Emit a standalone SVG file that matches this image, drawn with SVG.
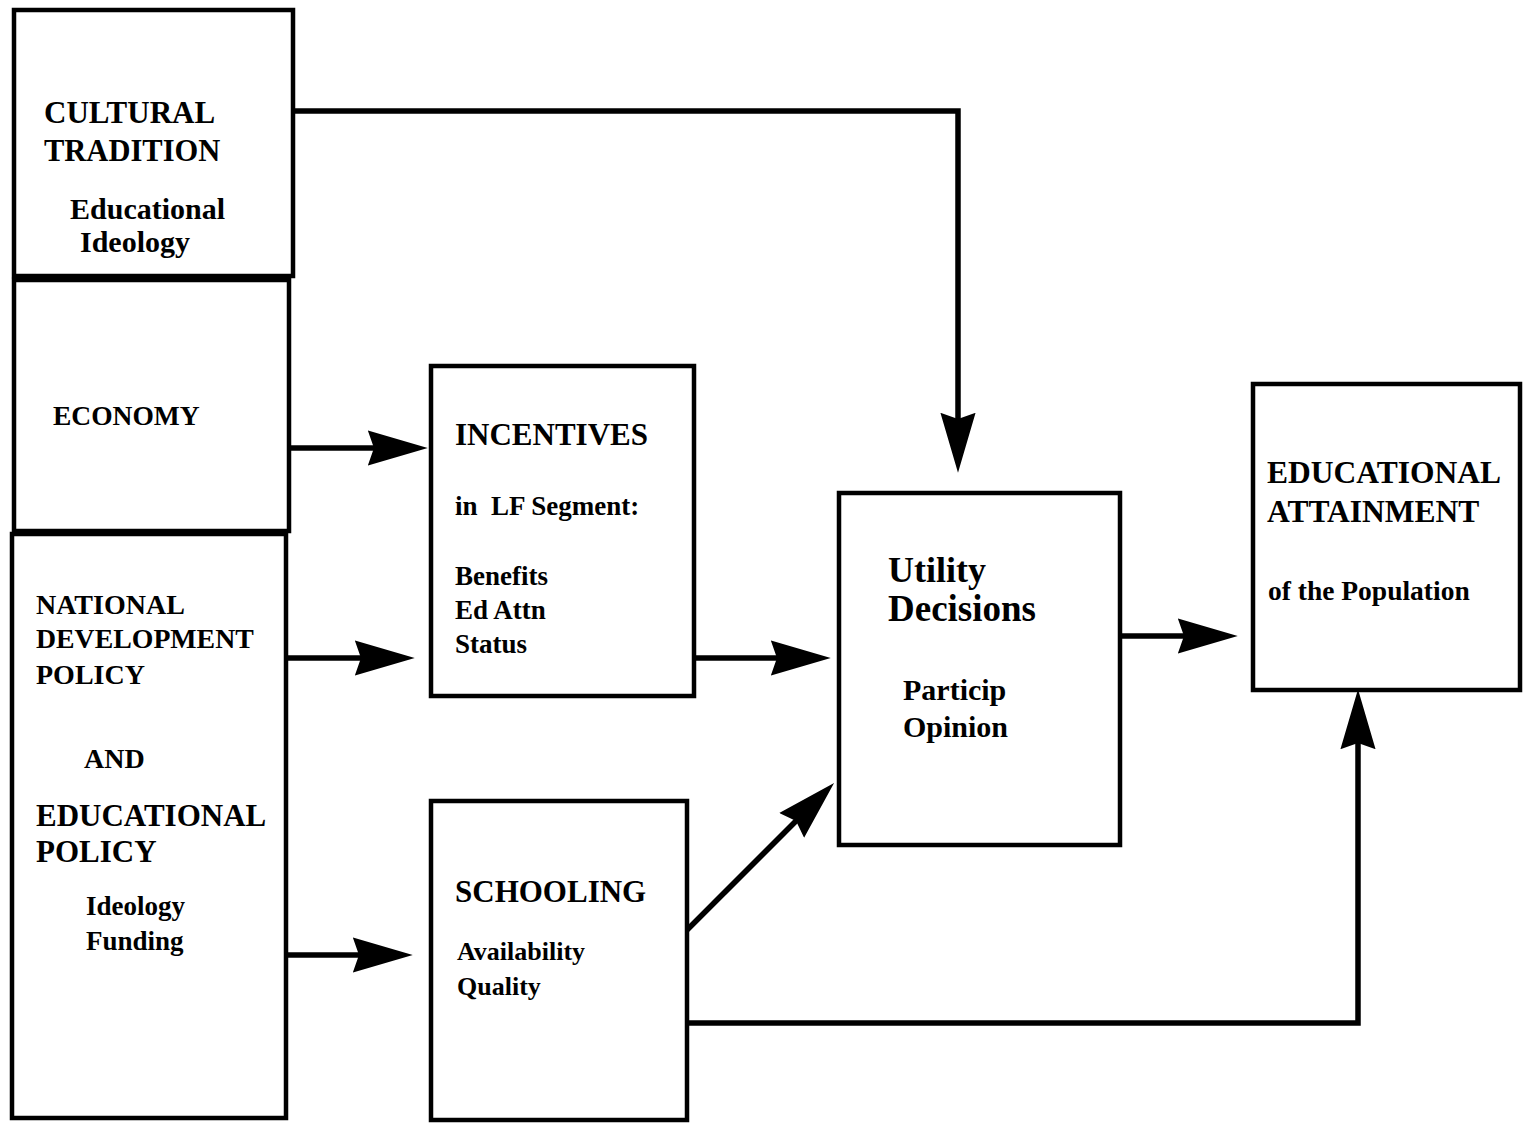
<svg xmlns="http://www.w3.org/2000/svg" width="1530" height="1123" viewBox="0 0 1530 1123">
<style>
.box{fill:none;stroke:#000;stroke-width:4.5}
.t{font-family:"Liberation Serif","Times New Roman",serif;font-weight:bold;fill:#000;white-space:pre}
.con{fill:none;stroke:#000;stroke-width:5.5}
</style>
<defs>
<marker id="ah" markerUnits="userSpaceOnUse" markerWidth="60" markerHeight="40" viewBox="0 0 58 36" refX="36" refY="18" orient="auto">
<path d="M0,1 L58,18 L0,35 L6,18 z" fill="#000"/>
</marker>
</defs>
<rect width="1530" height="1123" fill="#fff"/>

<g id="cultural">
<rect class="box" x="14" y="10" width="279" height="266"/>
<text class="t" x="44" y="123" font-size="31">CULTURAL</text>
<text class="t" x="44" y="161" font-size="30.5">TRADITION</text>
<text class="t" x="70" y="219" font-size="30">Educational</text>
<text class="t" x="80" y="252" font-size="30">Ideology</text>
</g>

<g id="economy">
<rect class="box" x="14" y="280" width="275" height="251"/>
<text class="t" x="53" y="425" font-size="27.5">ECONOMY</text>
</g>

<g id="policy">
<rect class="box" x="12" y="534" width="274" height="584"/>
<text class="t" x="36" y="614" font-size="28">NATIONAL</text>
<text class="t" x="36" y="648" font-size="27.8">DEVELOPMENT</text>
<text class="t" x="36" y="684" font-size="28">POLICY</text>
<text class="t" x="84" y="768" font-size="28">AND</text>
<text class="t" x="36" y="826" font-size="31">EDUCATIONAL</text>
<text class="t" x="36" y="862" font-size="31">POLICY</text>
<text class="t" x="86" y="915" font-size="27">Ideology</text>
<text class="t" x="86" y="950" font-size="27">Funding</text>
</g>

<g id="incentives">
<rect class="box" x="431" y="366" width="263" height="330"/>
<text class="t" x="455" y="445" font-size="31">INCENTIVES</text>
<text class="t" x="455" y="515" font-size="27">in  LF Segment:</text>
<text class="t" x="455" y="585" font-size="27">Benefits</text>
<text class="t" x="455" y="619" font-size="27">Ed Attn</text>
<text class="t" x="455" y="653" font-size="27">Status</text>
</g>

<g id="schooling">
<rect class="box" x="431" y="801" width="256" height="319"/>
<text class="t" x="455" y="902" font-size="31">SCHOOLING</text>
<text class="t" x="457" y="960" font-size="26">Availability</text>
<text class="t" x="457" y="995" font-size="26">Quality</text>
</g>

<g id="utility">
<rect class="box" x="839" y="493" width="281" height="352"/>
<text class="t" x="888" y="582" font-size="36">Utility</text>
<text class="t" x="888" y="621" font-size="37">Decisions</text>
<text class="t" x="903" y="700" font-size="30">Particip</text>
<text class="t" x="903" y="737" font-size="30">Opinion</text>
</g>

<g id="attainment">
<rect class="box" x="1253" y="384" width="267" height="306"/>
<text class="t" x="1267" y="483" font-size="31.5">EDUCATIONAL</text>
<text class="t" x="1267" y="522" font-size="31.5">ATTAINMENT</text>
<text class="t" x="1268" y="600" font-size="27.5">of the Population</text>
</g>

<g id="connectors">
<path class="con" d="M293,111 H958 V450" marker-end="url(#ah)"/>
<path class="con" d="M289,448 H405" marker-end="url(#ah)"/>
<path class="con" d="M286,658 H392" marker-end="url(#ah)"/>
<path class="con" d="M286,955 H390" marker-end="url(#ah)"/>
<path class="con" d="M694,658 H808" marker-end="url(#ah)"/>
<path class="con" d="M687,930 L818,799" marker-end="url(#ah)"/>
<path class="con" d="M1120,636 H1215" marker-end="url(#ah)"/>
<path class="con" d="M687,1023 H1358 V712" marker-end="url(#ah)"/>
</g>
</svg>
